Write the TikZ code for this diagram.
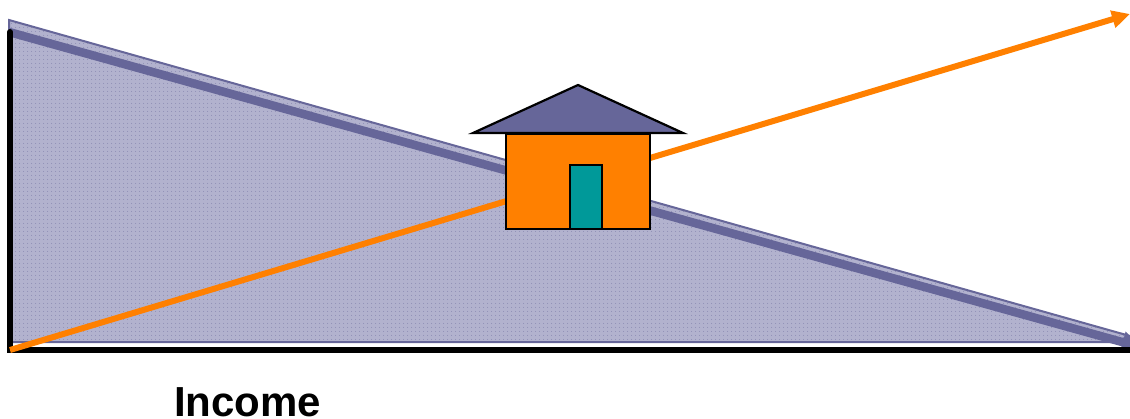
\documentclass[tikz,border=0pt]{standalone}
\usepackage{fontspec}
\setmainfont{Liberation Sans}
\usepackage{tikz}
\usetikzlibrary{arrows.meta,patterns.meta}
\definecolor{wedgeblue}{RGB}{102,102,153}
\definecolor{wedgesoft}{RGB}{178,178,206}
\definecolor{houseorange}{RGB}{255,128,0}
\definecolor{doorteal}{RGB}{0,153,153}

\begin{document}
\begin{tikzpicture}[x=1pt,y=-1pt,
  wedge/.style={draw=wedgeblue,line width=2pt,preaction={fill=wedgesoft},pattern={Dots[distance=4pt,radius=0.5pt]},pattern color=wedgeblue!85},
  axisline/.style={draw=black,line width=6pt,line cap=round},
  trend/.style={-{Triangle[length=18pt,width=17pt]},draw=houseorange,line width=6pt},
  slope/.style={-{Triangle[length=18pt,width=21pt]},draw=wedgeblue,line width=8.5pt},
  wall/.style={draw=black,line width=2.2pt,fill=houseorange,anchor=north west,inner sep=0pt,outer sep=0pt,minimum width=144pt,minimum height=95pt},
  door/.style={draw=black,line width=2.2pt,fill=doorteal,anchor=north west,inner sep=0pt,outer sep=0pt,minimum width=32pt,minimum height=64pt}]
  \useasboundingbox (0,0) rectangle (1130,418);
  % named corners
  \coordinate (wedgetop) at (9,20);
  \coordinate (wedgeright) at (1130,336);
  \coordinate (wedgecut) at (1115,342);
  \coordinate (wedgebottom) at (9,342);
  \coordinate (slopestart) at (9,32);
  \coordinate (slopeend) at (1140,347);
  \coordinate (origin) at (10,350);
  \coordinate (yend) at (10,32);
  \coordinate (xend) at (1134,350);
  \coordinate (trendend) at (1130,14);
  \coordinate (roofleft) at (473,133);
  \coordinate (rooftop) at (578,85);
  \coordinate (roofright) at (683,133);
  % wedge and axes
  \path[wedge] (wedgetop) -- (wedgeright) -- (wedgecut) -- (wedgebottom) -- cycle;
  \draw[slope] (slopestart) -- (slopeend);
  \draw[axisline] (yend) -- (origin) -- (xend);
  \draw[trend] (origin) -- (trendend);
  % house
  \node[wall] (body) at (506,134) {};
  \node[door] (entry) at (570,165) {};
  \draw[line width=2.2pt,fill=wedgeblue,line join=miter] (roofleft) -- (rooftop) -- (roofright) -- cycle;
  \node[anchor=base west,inner sep=0pt,font=\fontsize{42}{42}\selectfont\bfseries] (income) at (174,416) {Income};
\end{tikzpicture}
\end{document}
